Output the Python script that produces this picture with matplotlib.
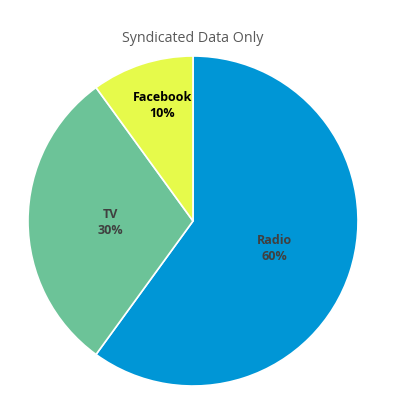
import numpy as np
import matplotlib
matplotlib.use("Agg")
import matplotlib.pyplot as plt

categories = ["Radio", "TV", "Facebook"]
values = [60, 30, 10]
colors = ["#0096D6", "#6CC398", "#E6FA4B"]
label_colors = ["#404040", "#404040", "#000000"]
label_dist = [0.52, 0.50, 0.73]
label_shift = [(0.0, 0.0), (0.0, -0.005), (0.04, 0.01)]

fig = plt.figure(figsize=(4.0, 4.1), dpi=100)
ax = fig.add_axes([28/400, 23/410, 330/400, 330/410])
wedges, _ = ax.pie(values, colors=colors, startangle=90, counterclock=False,
                   wedgeprops=dict(edgecolor="white", linewidth=1.2), radius=1.0)
for w, cat, v, d, lc, (sx, sy) in zip(wedges, categories, values, label_dist,
                                      label_colors, label_shift):
    ang = np.deg2rad((w.theta1 + w.theta2) / 2)
    ax.text(d*np.cos(ang) + sx, d*np.sin(ang) + sy, f"{cat}\n{v}%", ha="center", va="center",
            fontsize=9, fontweight="bold", color=lc, family="Open Sans", linespacing=1.3)
ax.set_xlim(-1, 1)
ax.set_ylim(-1, 1)
ax.set_aspect("equal")
ax.axis("off")
fig.text(193/400, 1 - 38/410, "Syndicated Data Only", ha="center", va="center",
         fontsize=10.3, color="#595959", family="Open Sans")
fig.savefig("out.png", dpi=100)
